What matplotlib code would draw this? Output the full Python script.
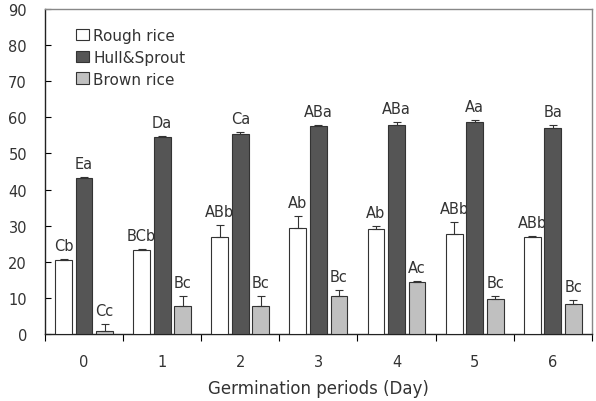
import matplotlib
matplotlib.use("Agg")
import matplotlib.pyplot as plt
import numpy as np

plt.rcParams['font.family'] = ['DejaVu Sans']

days = ['0', '1', '2', '3', '4', '5', '6']
series_names = ['Rough rice', 'Hull&Sprout', 'Brown rice']

rough = [20.5, 23.4, 26.8, 29.4, 29.2, 27.6, 26.8]
rough_err = [0.3, 0.2, 3.5, 3.2, 0.8, 3.3, 0.3]
rough_lbl = ['Cb', 'BCb', 'ABb', 'Ab', 'Ab', 'ABb', 'ABb']

hull = [43.1, 54.6, 55.4, 57.6, 57.9, 58.6, 57.0]
hull_err = [0.3, 0.3, 0.5, 0.4, 0.8, 0.8, 1.0]
hull_lbl = ['Ea', 'Da', 'Ca', 'ABa', 'ABa', 'Aa', 'Ba']

brown = [0.8, 7.8, 7.8, 10.5, 14.4, 9.8, 8.2]
brown_err = [1.9, 2.7, 2.7, 1.7, 0.3, 0.7, 1.2]
brown_lbl = ['Cc', 'Bc', 'Bc', 'Bc', 'Ac', 'Bc', 'Bc']

fig = plt.figure(figsize=(5.96, 4.02), dpi=100)
ax = fig.add_axes([0.0755, 0.1667, 0.9175, 0.8083])

x = np.arange(len(days))
off = 0.263
w = 0.215
colors = ['white', '#555555', '#c0c0c0']
data = [(rough, rough_err, rough_lbl), (hull, hull_err, hull_lbl), (brown, brown_err, brown_lbl)]
for i, (vals, errs, lbls) in enumerate(data):
    pos = x + (i - 1) * off
    ax.bar(pos, vals, width=w, color=colors[i], edgecolor='#333333', linewidth=0.8,
           label=series_names[i], zorder=3)
    ax.errorbar(pos, vals, yerr=[np.zeros(len(errs)), errs], fmt='none', ecolor='#333333',
                elinewidth=0.8, capsize=3, capthick=0.8, zorder=4)
    for p, v, e, t in zip(pos, vals, errs, lbls):
        ax.annotate(t, (p, v + e), xytext=(0, 6.5), textcoords='offset points',
                    ha='center', va='baseline', fontsize=10.5, color='#333333', zorder=2)

ax.set_xlim(-0.5, 6.5)
ax.set_ylim(0, 90)
ax.set_yticks(np.arange(0, 91, 10))
ax.set_xticks(x)
ax.set_xticklabels(days)
ax.set_xticks(np.arange(-0.5, 6.6, 1), minor=True)
ax.tick_params(axis='x', which='major', length=0, pad=14.5, labelsize=10.5, labelcolor='#333333')
ax.tick_params(axis='x', which='minor', length=5, direction='out', width=0.8)
ax.tick_params(axis='y', direction='in', length=4, pad=13, labelsize=10.5, width=0.8,
               labelcolor='#333333')
ax.set_xlabel('Germination periods (Day)', fontsize=12, labelpad=7, color='#333333')

for s in ['left', 'bottom']:
    ax.spines[s].set_color('#222222')
    ax.spines[s].set_linewidth(1.0)
for s in ['top', 'right']:
    ax.spines[s].set_color('#888888')
    ax.spines[s].set_linewidth(1.0)

ax.legend(loc='upper left', bbox_to_anchor=(0.038, 0.975), frameon=False, fontsize=11,
          handlelength=0.8, handleheight=0.8, handletextpad=0.3, labelspacing=0.45,
          borderaxespad=0.3, labelcolor='#333333')

fig.savefig('out.png', dpi=100)
